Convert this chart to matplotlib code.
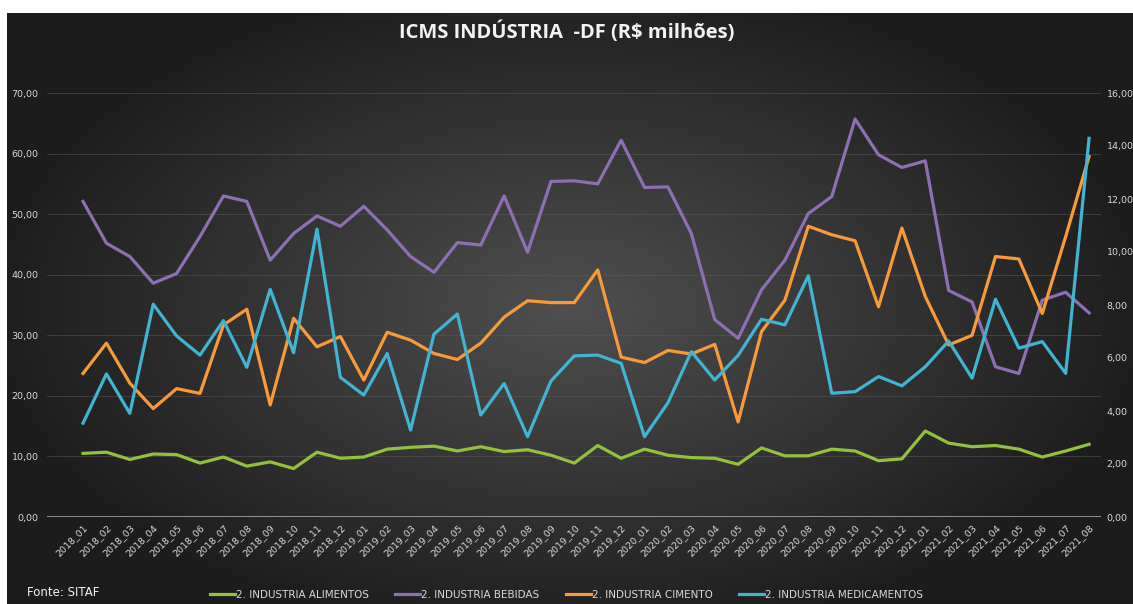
import numpy as np
import matplotlib.pyplot as plt
from matplotlib.lines import Line2D

months = [f"{y}_{m:02d}" for y in (2018, 2019, 2020, 2021) for m in range(1, 13)][:44]

alimentos = [10.5, 10.7, 9.5, 10.4, 10.3, 8.9, 9.9, 8.4, 9.1, 8.0, 10.7, 9.7, 9.9,
             11.2, 11.5, 11.7, 10.9, 11.6, 10.8, 11.1, 10.2, 8.9, 11.8, 9.7,
             11.2, 10.2, 9.8, 9.7, 8.7, 11.4, 10.1, 10.1, 11.2, 10.9, 9.3, 9.6,
             14.2, 12.2, 11.6, 11.8, 11.2, 9.9, 10.9, 12.0]
bebidas = [52.1, 45.2, 43.0, 38.6, 40.2, 46.3, 53.0, 52.1, 42.4, 46.8, 49.7, 48.0, 51.3,
           47.4, 43.0, 40.4, 45.3, 44.9, 53.0, 43.7, 55.4, 55.5, 55.0, 62.2,
           54.4, 54.5, 46.8, 32.6, 29.5, 37.5, 42.4, 50.1, 52.9, 65.7, 59.8, 57.7,
           58.8, 37.4, 35.5, 24.8, 23.7, 35.8, 37.1, 33.7]
cimento = [23.7, 28.7, 22.1, 17.9, 21.2, 20.4, 31.7, 34.3, 18.5, 32.8, 28.1, 29.8, 22.6,
           30.5, 29.2, 27.0, 26.0, 28.7, 33.0, 35.7, 35.4, 35.4, 40.8, 26.4,
           25.5, 27.5, 26.9, 28.5, 15.7, 30.6, 35.8, 48.0, 46.6, 45.6, 34.7, 47.7,
           36.4, 28.4, 30.0, 43.0, 42.6, 33.6, 46.3, 59.5]
# medicamentos on the secondary axis
medicamentos = [3.54, 5.40, 3.91, 8.03, 6.83, 6.11, 7.41, 5.65, 8.59, 6.20, 10.86, 5.27, 4.60,
                6.17, 3.28, 6.90, 7.66, 3.85, 5.04, 3.03, 5.13, 6.08, 6.11, 5.80,
                3.03, 4.31, 6.24, 5.17, 6.10, 7.46, 7.25, 9.10, 4.67, 4.73, 5.30, 4.95,
                5.67, 6.64, 5.24, 8.22, 6.37, 6.62, 5.42, 14.29]

left_ticks = np.arange(0, 71, 10)
right_ticks = np.arange(0, 17, 2)

c_ali, c_beb, c_cim, c_med = "#92c13e", "#8e6fb5", "#f89a3a", "#40b4d2"
txt = "#d9d9d9"

fig = plt.figure(figsize=(11.33, 6.04), dpi=100)
fig.patch.set_facecolor("white")

# radial gradient background
bg = fig.add_axes([7 / 1133, 0, 1 - 7 / 1133, 1 - 13 / 604])
bg.set_axis_off()
gx, gy = np.meshgrid(np.linspace(-1, 1, 400), np.linspace(-1, 1, 220))
r = np.sqrt((gx / 1.0) ** 2 + (gy / 1.1) ** 2)
shade = np.clip(0.31 - 0.19 * r, 0.11, 0.31)
bg.imshow(np.dstack([shade] * 3), aspect="auto", extent=(0, 1, 0, 1))
bg.set_xlim(0, 1)
bg.set_ylim(0, 1)

ax = fig.add_axes([47 / 1133, 87 / 604, 1054 / 1133, 424 / 604])
ax.patch.set_alpha(0)
x = np.arange(len(months))
ax.plot(x, alimentos, color=c_ali, lw=2.3, solid_joinstyle="round")
ax.plot(x, bebidas, color=c_beb, lw=2.3, solid_joinstyle="round")
ax.plot(x, cimento, color=c_cim, lw=2.3, solid_joinstyle="round")
ax.set_ylim(0, 70)
ax.set_xlim(-1.54, 43.51)
ax.set_yticks(left_ticks)
ax.set_yticklabels([f"{v:.2f}".replace(".", ",") for v in left_ticks])
ax.yaxis.grid(True, color="#5a5a5a", lw=0.6, alpha=0.6)
ax.set_xticks(x)
ax.set_xticklabels(months, rotation=45, ha="right", va="top", rotation_mode="anchor")
for s in ax.spines.values():
    s.set_visible(False)
ax.axhline(0, color="#a6a6a6", lw=1.2)
ax.tick_params(axis="both", length=0, colors=txt, labelsize=6.8)
ax.tick_params(axis="y", pad=6)
ax.tick_params(axis="x", pad=4)

ax2 = ax.twinx()
ax2.plot(x, medicamentos, color=c_med, lw=2.3, solid_joinstyle="round")
ax2.set_ylim(0, 16)
ax2.set_yticks(right_ticks)
ax2.set_yticklabels([f"{v:.2f}".replace(".", ",") for v in right_ticks])
for s in ax2.spines.values():
    s.set_visible(False)
ax2.tick_params(axis="y", length=0, colors=txt, labelsize=6.8, pad=4)

fig.text(0.5, 1 - 32 / 604, "ICMS INDÚSTRIA  -DF (R$ milhões)", ha="center", va="center",
         color="#f2f2f2", fontsize=14.5, fontweight="bold", family=["Open Sans", "DejaVu Sans"])
fig.text(27 / 1133, 1 - 593 / 604, "Fonte: SITAF", ha="left", va="center",
         color="#f2f2f2", fontsize=8.5)

handles = [Line2D([0], [0], color=c, lw=2.3) for c in (c_ali, c_beb, c_cim, c_med)]
labels = ["2. INDUSTRIA ALIMENTOS", "2. INDUSTRIA BEBIDAS",
          "2. INDUSTRIA CIMENTO", "2. INDUSTRIA MEDICAMENTOS"]
leg = fig.legend(handles, labels, loc="center", bbox_to_anchor=(0.5, 1 - 595 / 604), ncol=4,
                 frameon=False, fontsize=7.5, handlelength=2.4, handletextpad=0.1,
                 columnspacing=2.5, labelcolor=txt)

fig.savefig("out.png", dpi=100)
